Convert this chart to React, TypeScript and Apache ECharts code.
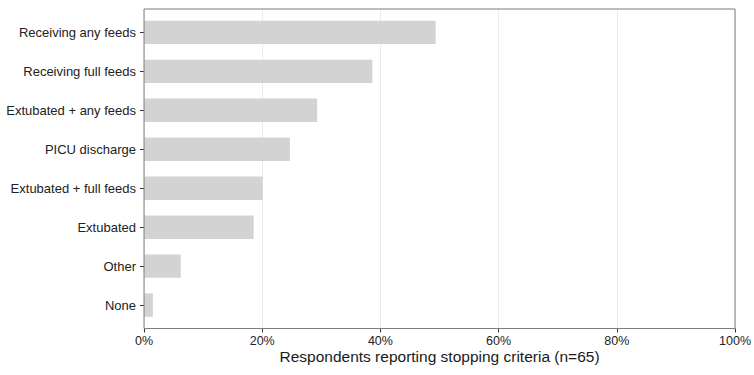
import React, { useEffect, useRef } from "react";
import * as echarts from "echarts";

const categories = [
  "Receiving any feeds",
  "Receiving full feeds",
  "Extubated + any feeds",
  "PICU discharge",
  "Extubated + full feeds",
  "Extubated",
  "Other",
  "None",
];
const percentValues = [49.2, 38.5, 29.2, 24.6, 20.0, 18.5, 6.2, 1.5];
const xTicks = [0, 20, 40, 60, 80, 100];
const xTitle = "Respondents reporting stopping criteria (n=65)";

const FONT = "'Liberation Sans', Arial, Helvetica, sans-serif";
const TEXT = "#222222";

export default function App() {
  const ref = useRef<HTMLDivElement>(null);
  useEffect(() => {
    if (!ref.current) return;
    const chart = echarts.init(ref.current, null, { renderer: "svg" });
    chart.setOption({
      animation: false,
      backgroundColor: "#ffffff",
      textStyle: { fontFamily: FONT },
      grid: [
        {
          left: 144,
          right: 17,
          top: 9,
          bottom: 46.5,
          show: true,
          z: 5,
          backgroundColor: "transparent",
          borderColor: "#7f7f7f",
          borderWidth: 1,
        },
        { left: 144, right: 17, top: 12.9, bottom: 50.4 },
      ],
      xAxis: [
        {
          type: "value",
          gridIndex: 0,
          min: xTicks[0],
          max: xTicks[xTicks.length - 1],
          interval: 20,
          axisLine: { show: false },
          axisTick: { show: true, length: 4, lineStyle: { color: "#333" } },
          axisLabel: {
            formatter: "{value}%",
            fontSize: 12.5,
            color: TEXT,
            margin: 6,
            fontFamily: FONT,
          },
          splitLine: { show: true, lineStyle: { color: "#ebebeb", width: 1 } },
          name: xTitle,
          nameLocation: "middle",
          nameGap: 20,
          nameMoveOverlap: false,
          nameTextStyle: { fontSize: 15.5, color: "#1a1a1a", fontFamily: FONT },
        },
        {
          type: "value",
          gridIndex: 1,
          min: 0,
          max: 100,
          show: false,
        },
      ],
      yAxis: [
        { type: "value", gridIndex: 0, min: 0, max: 1, show: false },
        {
          type: "category",
          gridIndex: 1,
          data: categories,
          inverse: true,
          axisLine: { show: false },
          axisTick: { show: true, length: 4, alignWithLabel: true, lineStyle: { color: "#333" } },
          axisLabel: { fontSize: 13, color: TEXT, margin: 8, fontFamily: FONT },
          splitLine: { show: false },
        },
      ],
      series: [
        {
          type: "bar",
          xAxisIndex: 1,
          yAxisIndex: 1,
          data: percentValues,
          barWidth: "60%",
          itemStyle: { color: "#d3d3d3" },
        },
      ],
    });
    return () => chart.dispose();
  }, []);
  return (
    <div
      ref={ref}
      style={{ position: "absolute", left: 0, top: 0, width: 754, height: 375 }}
    />
  );
}
